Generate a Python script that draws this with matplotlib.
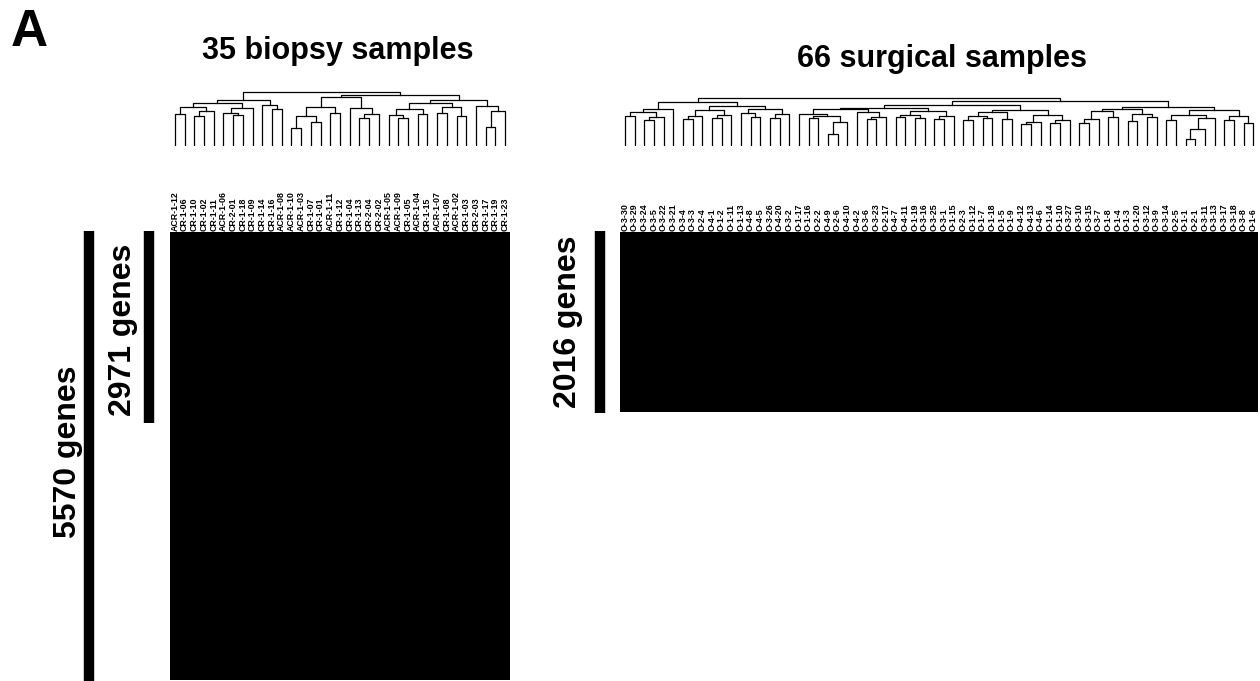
import numpy as np
import matplotlib
matplotlib.use("agg")
import matplotlib.pyplot as plt

plt.rcParams['font.family'] = ['Liberation Sans', 'DejaVu Sans']

#-------------------Data--------------------------
biopsy_labels = ["ACR-1-12", "CR-1-06", "CR-1-10", "CR-1-02", "CR-1-11", "ACR-1-06",
                 "CR-2-01", "CR-1-18", "CR-1-09", "CR-1-14", "CR-1-16", "ACR-1-08",
                 "ACR-1-10", "ACR-1-03", "CR-1-07", "CR-1-01", "ACR-1-11", "CR-1-12",
                 "CR-1-04", "CR-1-13", "CR-2-04", "CR-2-02", "ACR-1-05", "ACR-1-09",
                 "CR-1-05", "ACR-1-04", "CR-1-15", "ACR-1-07", "CR-1-08", "ACR-1-02",
                 "CR-1-03", "CR-2-03", "CR-1-17", "CR-1-19", "CR-1-23"]

surgical_labels = ["O-3-30", "O-3-29", "O-3-24", "O-3-5", "O-3-22", "O-3-21", "O-3-4",
                   "O-3-3", "O-2-4", "O-4-1", "O-1-2", "O-1-11", "O-1-13", "O-4-8",
                   "O-4-5", "O-3-26", "O-4-20", "O-3-2", "O-1-17", "O-1-16", "O-2-2",
                   "O-4-9", "O-2-6", "O-4-10", "O-4-2", "O-3-6", "O-3-23", "O-2-17",
                   "O-4-7", "O-4-11", "O-1-19", "O-3-16", "O-3-25", "O-3-1", "O-1-15",
                   "O-2-3", "O-1-12", "O-1-7", "O-1-18", "O-1-5", "O-1-9", "O-4-12",
                   "O-4-13", "O-4-6", "O-1-14", "O-1-10", "O-3-27", "O-3-10", "O-3-15",
                   "O-3-7", "O-1-8", "O-1-4", "O-1-3", "O-1-20", "O-3-12", "O-3-9",
                   "O-3-14", "O-2-5", "O-1-1", "O-2-1", "O-3-11", "O-3-13", "O-3-17",
                   "O-3-18", "O-3-8", "O-1-6"]

biopsy_genes = 5570
biopsy_genes_sub = 2971
surgical_genes = 2016

# cluster trees: [height, left, right], leaves = sample index
biopsy_tree = [1.0,
    [0.85,
        [0.80,
            [0.72, [0.60, 0, 1], [0.64, [0.55, 2, 3], 4]],
            [0.70, [0.62, 5, [0.58, 6, 7]], 8]],
        [0.76, 9, [0.68, 10, 11]]],
    [0.95,
        [0.90,
            [0.72, [0.55, [0.33, 12, 13], [0.45, 14, 15]], [0.62, 16, 17]],
            [0.70, 18, [0.60, [0.52, 19, 20], 21]]],
        [0.86,
            [0.80,
                [0.68, [0.58, 22, [0.52, 23, 24]], [0.60, 25, 26]],
                [0.72, [0.62, 27, 28], [0.56, 29, 30]]],
            [0.74, 31, [0.65, [0.36, 32, 33], 34]]]]]

surgical_tree = [1.0,
    [0.91,
        [0.78, [0.70, [0.62, 0, 1], [0.60, [0.55, 2, 3], 4]], 5],
        [0.83,
            [0.74, [0.62, [0.56, 6, 7], 8], [0.64, [0.58, 9, 10], 11]],
            [0.76, [0.68, 12, [0.60, 13, 14]], [0.66, [0.58, 15, 16], 17]]]],
    [0.94,
        [0.86,
            [0.80,
                [0.76, [0.66, 18, [0.62, [0.58, 19, 20], [0.50, [0.25, 21, 22], 23]]],
                       [0.70, 24, [0.60, [0.56, 25, 26], 27]]],
                [0.72, [0.64, [0.60, 28, 29], [0.58, 30, 31]], [0.62, [0.56, 32, 33], 34]]],
            [0.75,
                [0.70, [0.62, [0.55, 35, 36], [0.58, 37, 38]], [0.56, 39, 40]],
                [0.64, [0.50, [0.45, 41, 42], 43], [0.55, [0.48, 44, 45], 46]]]],
        [0.82,
            [0.78,
                [0.72, [0.56, [0.48, 47, 48], 49], [0.60, 50, 51]],
                [0.66, [0.52, 52, 53], [0.60, 54, 55]]],
            [0.74,
                [0.64, [0.54, 56, 57], [0.58, [0.35, [0.15, 58, 59], 60], 61]],
                [0.62, [0.55, 62, 63], [0.48, 64, 65]]]]]]

#-------------------Setup-----------------------------
W, H = 1260, 681
fig = plt.figure(figsize=(W / 100, H / 100), dpi=100)


def px(x0, y0, x1, y1):
    # pixel box -> figure fraction
    return [x0 / W, 1 - y1 / H, (x1 - x0) / W, (y1 - y0) / H]


def draw_tree(ax, node):
    if isinstance(node, int):
        return node + 0.5, 0.0
    h, left, right = node
    xl, hl = draw_tree(ax, left)
    xr, hr = draw_tree(ax, right)
    ax.plot([xl, xl, xr, xr], [hl, h, h, hr], color='k', lw=0.9)
    return (xl + xr) / 2, h


def heatmap(box, n_genes, labels):
    ax = fig.add_axes(px(*box))
    ax.imshow(np.zeros((n_genes, len(labels))), cmap='gray', vmin=0, vmax=1,
              aspect='auto', interpolation='nearest')
    ax.xaxis.tick_top()
    ax.set_xticks(np.arange(len(labels)))
    ax.set_xticklabels(labels, rotation=90, fontsize=6.4, fontweight='bold',
                       family=['Liberation Sans Narrow', 'Liberation Sans', 'DejaVu Sans'])
    ax.tick_params(axis='x', length=0, pad=1)
    ax.set_yticks([])
    for s in ax.spines.values():
        s.set_visible(False)
    return ax


def dendro(box, tree, n):
    ax = fig.add_axes(px(*box))
    draw_tree(ax, tree)
    ax.set_xlim(0, n)
    ax.set_ylim(0, 1.02)
    ax.axis('off')
    return ax


#-------------------Biopsy panel-----------------------
heatmap((170, 232, 510, 680), biopsy_genes, biopsy_labels)
dendro((170, 91, 510, 146), biopsy_tree, len(biopsy_labels))

#-------------------Surgical panel---------------------
heatmap((620, 232, 1258, 412), surgical_genes, surgical_labels)
dendro((620, 97, 1258, 146), surgical_tree, len(surgical_labels))

#-------------------Annotations------------------------
ov = fig.add_axes([0, 0, 1, 1])
ov.set_xlim(0, W)
ov.set_ylim(H, 0)
ov.axis('off')

ov.plot([89, 89], [231, 681], color='k', lw=7.5, solid_capstyle='butt')
ov.plot([149, 149], [231, 423], color='k', lw=7.5, solid_capstyle='butt')
ov.plot([600, 600], [231, 413], color='k', lw=7.5, solid_capstyle='butt')

ov.text(68, 452, "%d genes" % biopsy_genes, rotation=90, ha='center', va='center',
        fontsize=23, fontweight='bold')
ov.text(123, 330, "%d genes" % biopsy_genes_sub, rotation=90, ha='center', va='center',
        fontsize=23, fontweight='bold')
ov.text(568, 322, "%d genes" % surgical_genes, rotation=90, ha='center', va='center',
        fontsize=23, fontweight='bold')

ov.text(11, 46, "A", ha='left', va='baseline', fontsize=37, fontweight='bold')
ov.text(338, 59, "%d biopsy samples" % len(biopsy_labels), ha='center', va='baseline',
        fontsize=22, fontweight='bold')
ov.text(942, 67, "%d surgical samples" % len(surgical_labels), ha='center', va='baseline',
        fontsize=22, fontweight='bold')

plt.savefig("out.png", dpi=100)
